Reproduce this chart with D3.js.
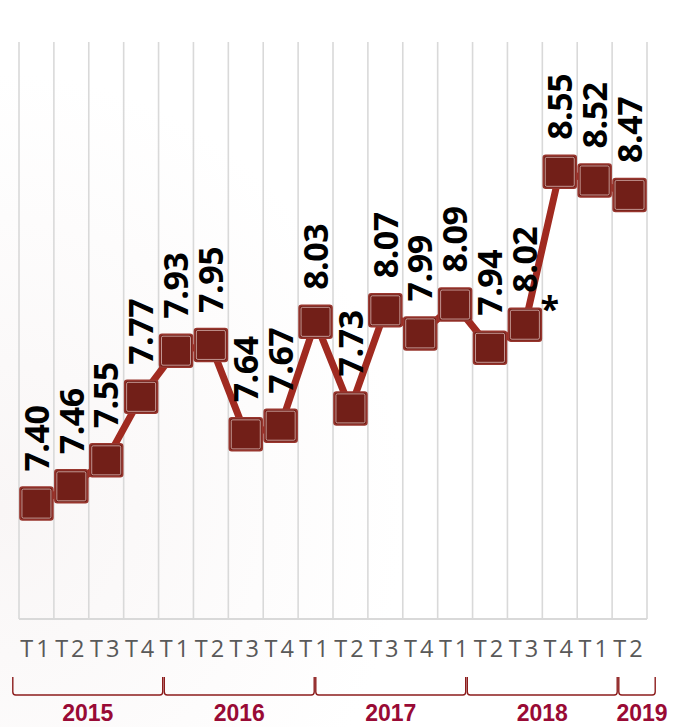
<!DOCTYPE html>
<html>
<head>
<meta charset="utf-8">
<script src="https://cdn.jsdelivr.net/npm/d3@7"></script>
<style>
  html, body { margin: 0; padding: 0; background: #ffffff; }
  svg { display: block; }
</style>
</head>
<body>
<svg id="chart" width="674" height="727"></svg>
<script>
// ---- data ----
const quarters = ["T1","T2","T3","T4","T1","T2","T3","T4","T1","T2","T3","T4","T1","T2","T3","T4","T1","T2"];
const pointYears = ["2015","2015","2015","2015","2016","2016","2016","2016","2017","2017","2017","2017","2018","2018","2018","2018","2019","2019"];
const values = [7.40, 7.46, 7.55, 7.77, 7.93, 7.95, 7.64, 7.67, 8.03, 7.73, 8.07, 7.99, 8.09, 7.94, 8.02, 8.55, 8.52, 8.47];
const valueLabels = ["7.40","7.46","7.55","7.77","7.93","7.95","7.64","7.67","8.03","7.73","8.07","7.99","8.09","7.94","8.02","8.55","8.52","8.47"];
const yearLabels = ["2015","2016","2017","2018","2019"];
const noteIndex = 14;
const noteText = "*";

// ---- layout ----
const W = 674, H = 727;
const plot = { left: 19, right: 647, top: 42, bottom: 619 };
const svg = d3.select("#chart");

// faint background
const defs = svg.append("defs");
const grad = defs.append("radialGradient").attr("id", "bg").attr("cx", "0%").attr("cy", "70%").attr("r", "60%");
grad.append("stop").attr("offset", "0%").attr("stop-color", "#f9f6f6");
grad.append("stop").attr("offset", "100%").attr("stop-color", "#ffffff");
svg.append("rect").attr("width", W).attr("height", H).attr("fill", "url(#bg)");

const idx = d3.range(values.length);
const x = d3.scaleBand().domain(idx).range([plot.left, plot.right]).padding(0);
const y = d3.scaleLinear().domain([7.0, 9.0]).range([plot.bottom, plot.top]);
const cx = i => x(i) + x.bandwidth() / 2;

// vertical gridlines at category boundaries
const bounds = d3.range(values.length + 1);
svg.append("g").selectAll("line").data(bounds).join("line")
  .attr("x1", b => plot.left + b * x.bandwidth())
  .attr("x2", b => plot.left + b * x.bandwidth())
  .attr("y1", plot.top).attr("y2", plot.bottom)
  .attr("stroke", "#d9d9d9").attr("stroke-width", 1.6);
svg.append("line")
  .attr("x1", plot.left).attr("x2", plot.right)
  .attr("y1", plot.bottom).attr("y2", plot.bottom)
  .attr("stroke", "#d9d9d9").attr("stroke-width", 2);

// bottom axis (quarter labels)
const xAxis = d3.axisBottom(x).tickSize(0).tickFormat(i => quarters[i]);
const ax = svg.append("g").attr("transform", `translate(0,${plot.bottom})`).call(xAxis);
ax.select(".domain").remove();
ax.selectAll("text")
  .attr("y", 38).attr("dy", 0)
  .style("font-family", "'Open Sans', sans-serif")
  .style("font-size", "23.5px")
  .style("letter-spacing", "3px")
  .attr("fill", "#595959");

// line
const line = d3.line().x((d, i) => cx(i)).y(d => y(d));
svg.append("path").datum(values)
  .attr("d", line)
  .attr("fill", "none")
  .attr("stroke", "#a02a20")
  .attr("stroke-width", 7)
  .attr("stroke-linejoin", "round");

// markers
const ms = 33;
const mk = svg.append("g").selectAll("g").data(values).join("g")
  .attr("transform", (d, i) => `translate(${cx(i)},${y(d)})`);
mk.append("rect")
  .attr("x", -ms / 2).attr("y", -ms / 2).attr("width", ms).attr("height", ms)
  .attr("rx", 2.5)
  .attr("fill", "#721f18").attr("stroke", "#98362e").attr("stroke-width", 1.5);
mk.append("rect")
  .attr("x", -ms / 2 + 2).attr("y", -ms / 2 + 2).attr("width", ms - 4).attr("height", ms - 4)
  .attr("rx", 1.5)
  .attr("fill", "none").attr("stroke", "#f3dcd8").attr("stroke-opacity", 0.7).attr("stroke-width", 0.9);

// value labels (rotated)
const fs = 34;
svg.append("g").selectAll("text").data(values).join("text")
  .attr("transform", (d, i) => `translate(${cx(i) + fs * 0.36},${y(d) - 32}) rotate(-90)`)
  .attr("text-anchor", "start")
  .style("font-family", "'Open Sans', sans-serif")
  .style("font-weight", "700")
  .style("font-size", fs + "px")
  .style("letter-spacing", "-0.5px")
  .attr("fill", "#000")
  .text((d, i) => valueLabels[i]);

// note asterisk
svg.append("text")
  .attr("x", cx(noteIndex) + 25).attr("y", y(values[noteIndex]) - 4)
  .attr("text-anchor", "middle")
  .style("font-family", "'Open Sans', sans-serif")
  .style("font-weight", "700")
  .style("font-size", "34px")
  .attr("fill", "#000")
  .text(noteText);

// year brackets
const groups = yearLabels.map(yr => {
  const ids = idx.filter(i => pointYears[i] === yr);
  return { year: yr, start: d3.min(ids), end: d3.max(ids) + 1 };
});
const bx = d3.scaleLinear().domain([0, 16]).range([12, 618]);
const bxc = v => Math.min(bx(v), 656);
const yTop = 677, yBot = 695;
const bg = svg.append("g");
bg.selectAll("path").data(groups).join("path")
  .attr("d", g => {
    const x0 = bxc(g.start) + 0.8, x1 = bxc(g.end) - 0.8;
    return `M${x0},${yTop} L${x0},${yBot - 3} Q${x0},${yBot} ${x0 + 3},${yBot} L${x1 - 3},${yBot} Q${x1},${yBot} ${x1},${yBot - 3} L${x1},${yTop}`;
  })
  .attr("fill", "none").attr("stroke", "#8c1c1c").attr("stroke-width", 1.4);
bg.selectAll("text").data(groups).join("text")
  .attr("x", g => (bxc(g.start) + bxc(g.end)) / 2 + (g.end - g.start < 4 ? 5 : 0))
  .attr("y", 721)
  .attr("text-anchor", "middle")
  .style("font-family", "'Liberation Sans', Arial, sans-serif")
  .style("font-weight", "700")
  .style("font-size", "23px")
  .attr("fill", "#990a35")
  .text(g => g.year);
</script>
</body>
</html>
